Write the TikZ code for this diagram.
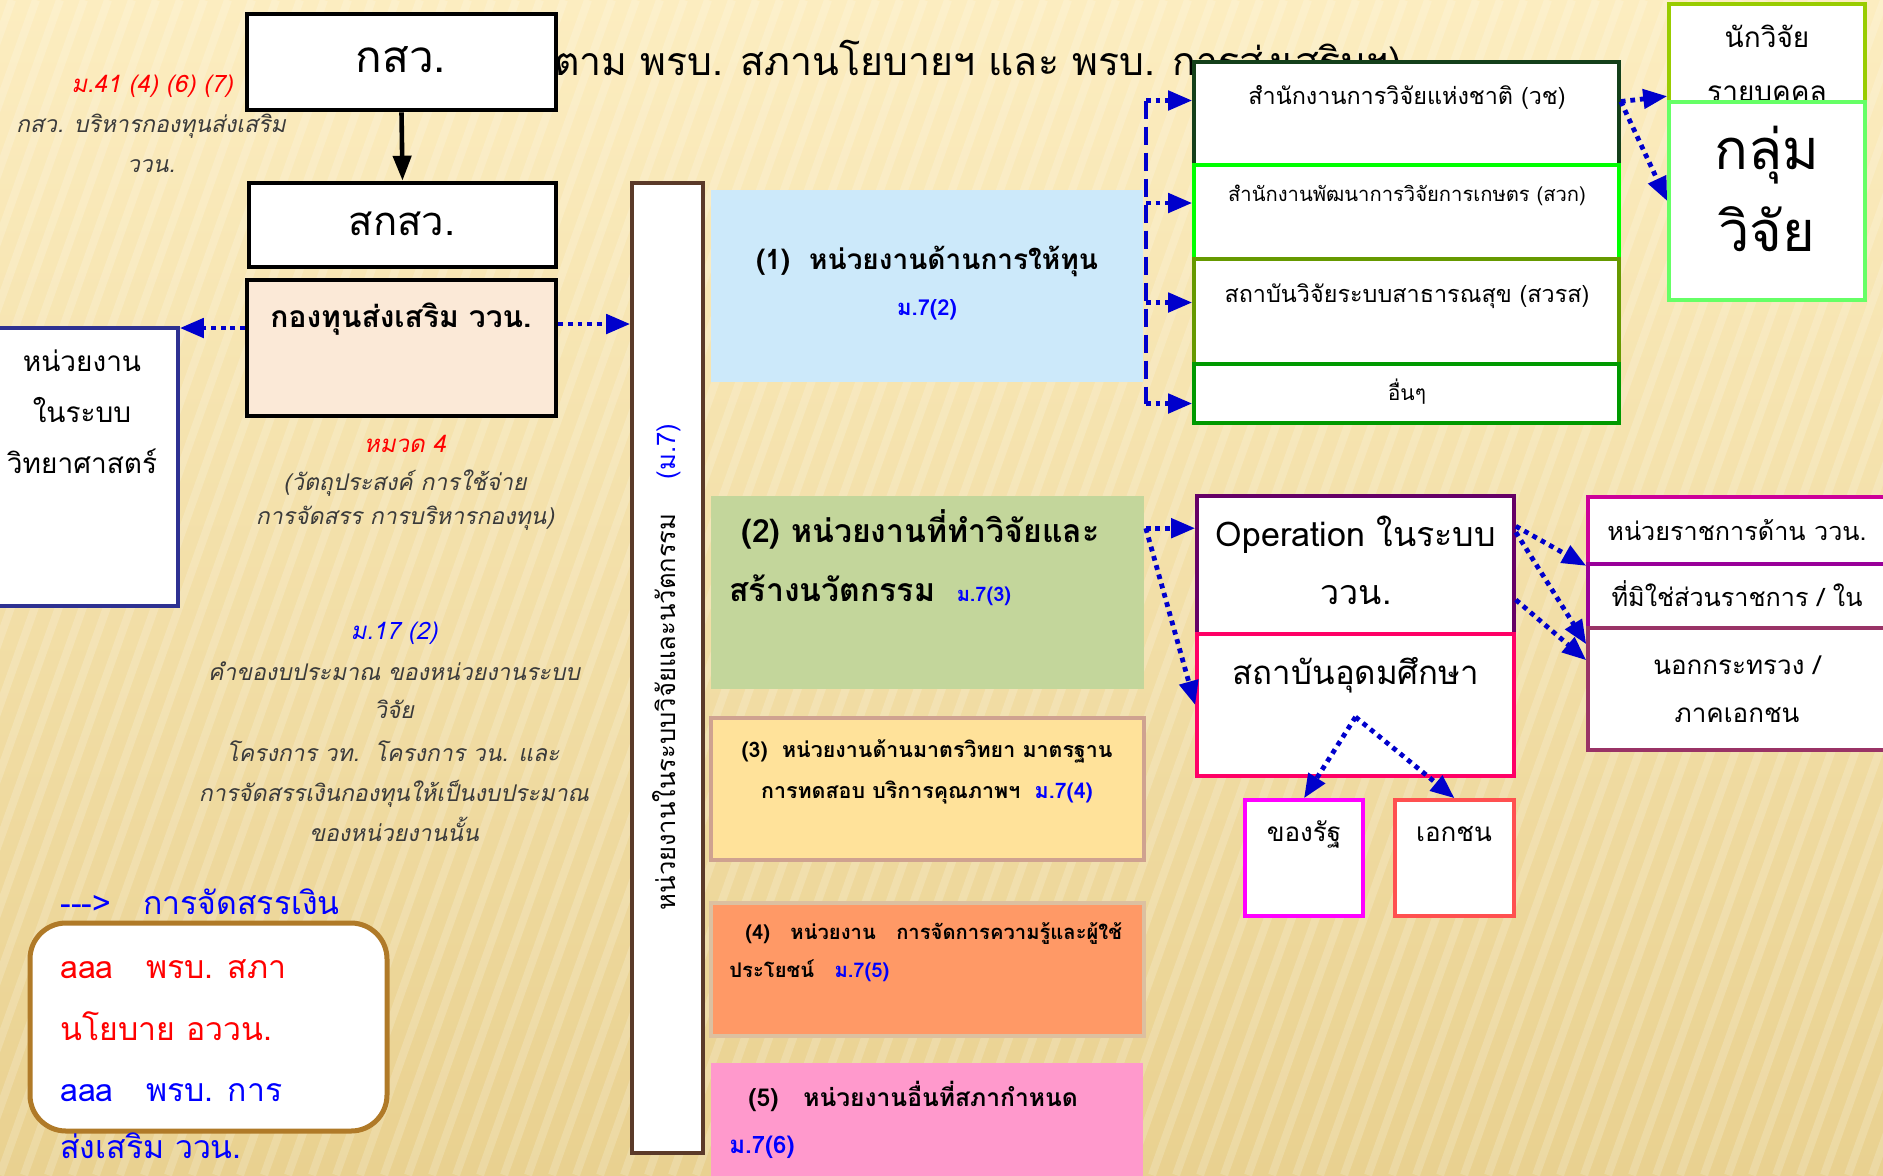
\documentclass[tikz,border=0pt]{standalone}
\usepackage{fontspec}
\setmainfont[Script=Thai]{Loma}
\usetikzlibrary{positioning,arrows.meta}

\definecolor{bgtop}{HTML}{FCEDC0}
\definecolor{bgbot}{HTML}{E9D190}
\definecolor{arrblue}{HTML}{0000CC}
\definecolor{txtblue}{HTML}{0000FF}
\definecolor{txtred}{HTML}{FF0000}
\definecolor{notegray}{HTML}{3A3A3A}
\definecolor{fundfill}{HTML}{FBE9D7}
\definecolor{scidraw}{HTML}{2E3192}
\definecolor{barbrown}{HTML}{5B3A29}
\definecolor{gonefill}{HTML}{CCE9FA}
\definecolor{gtwofill}{HTML}{C3D69B}
\definecolor{gthreefill}{HTML}{FFE29A}
\definecolor{gthreedraw}{HTML}{CFA290}
\definecolor{gfourfill}{HTML}{FF9966}
\definecolor{gfourdraw}{HTML}{DCC0A0}
\definecolor{gfivefill}{HTML}{FF99CC}
\definecolor{nrctdraw}{HTML}{14401A}
\definecolor{ardadraw}{HTML}{00FF00}
\definecolor{hsridraw}{HTML}{669900}
\definecolor{otherdraw}{HTML}{009900}
\definecolor{indivdraw}{HTML}{99CC00}
\definecolor{groupdraw}{HTML}{66FF66}
\definecolor{operdraw}{HTML}{660066}
\definecolor{heidraw}{HTML}{FF0066}
\definecolor{statedraw}{HTML}{FF00FF}
\definecolor{privdraw}{HTML}{FF5050}
\definecolor{govdraw}{HTML}{CC0099}
\definecolor{nongovdraw}{HTML}{990099}
\definecolor{outdraw}{HTML}{993366}
\definecolor{legdraw}{HTML}{B07A28}

\newcommand{\fsz}[1]{\fontsize{#1}{#1}\selectfont}

\tikzset{
	box/.style={draw, fill=white, line width=1.8pt, inner sep=0pt},
	bigbox/.style={box, draw=black, line width=2.3pt},
	grp/.style={inner sep=0pt, line width=1.8pt},
	darr/.style={draw=arrblue, line width=2.4pt, dash pattern=on 2.4pt off 2.4pt,
		-{Triangle[length=12pt,width=9.5pt]}},
	spine/.style={draw=arrblue, line width=2.4pt, dash pattern=on 9pt off 4pt},
	lbl/.style={anchor=mid, inner sep=0pt},
	lblw/.style={anchor=mid west, inner sep=0pt},
	note/.style={lbl, text=notegray, font=\itshape\fsz{11.5}},
}

\begin{document}
\begin{tikzpicture}[x=0.5pt,y=-0.5pt]
	\useasboundingbox (0,0) rectangle (1883,1175);
	% background
	\shade[top color=bgtop, bottom color=bgbot] (0,0) rectangle (1883,1175);
	\foreach \i in {-480,-456,...,1900}
		\draw[white, opacity=.18, line width=4pt] (\i,1175) -- (\i+420,0);

	\node[lbl, anchor=mid east, font=\fsz{19.6}] (title) at (1402,70) {(ตาม พรบ. สภานโยบายฯ และ พรบ. การส่งเสริมฯ)};

	% left column
	\node[bigbox, minimum width=154.5pt, minimum height=48pt] (ksw) at (401.5,62) {};
	\node[lbl, font=\fsz{22}] (kswt) at (401,67) {กสว.};
	\node[bigbox, minimum width=153.5pt, minimum height=42pt] (sksw) at (402.5,225) {};
	\node[lbl, font=\fsz{20}] (skswt) at (402,230) {สกสว.};
	\draw[line width=2.3pt, -{Triangle[length=12.5pt,width=9pt]}] (ksw.south) -- (sksw.north);
	\node[bigbox, fill=fundfill, minimum width=154.5pt, minimum height=68pt] (fund) at (401.5,348) {};
	\node[lbl, font=\bfseries\fsz{15}] (fundt) at (401,322) {กองทุนส่งเสริม ววน.};

	\node[box, draw=scidraw, minimum width=99pt, minimum height=139pt] (sci) at (79,467) {};
	\node[lbl, font=\fsz{14}] (scia) at (82,366) {หน่วยงาน};
	\node[lbl, font=\fsz{14}] (scib) at (82,417) {ในระบบ};
	\node[lbl, font=\fsz{14}] (scic) at (82,468) {วิทยาศาสตร์};

	\node[lbl, text=txtred, font=\itshape\fsz{12}] (secA) at (152,87) {ม.41 (4) (6) (7)};
	\node[note] (noteA) at (151,127) {กสว. บริหารกองทุนส่งเสริม};
	\node[note] (noteB) at (151,167) {ววน.};
	\node[lbl, text=txtred, font=\itshape\fsz{12}] (secB) at (405,447) {หมวด 4};
	\node[note] (noteC) at (405,485) {(วัตถุประสงค์ การใช้จ่าย};
	\node[note] (noteD) at (405,519) {การจัดสรร การบริหารกองทุน)};
	\node[lbl, text=txtblue, font=\itshape\fsz{12}] (secC) at (394,634) {ม.17 (2)};
	\node[note] (noteE) at (394,675) {คำของบประมาณ ของหน่วยงานระบบ};
	\node[note] (noteF) at (394,713) {วิจัย};
	\node[note] (noteG) at (393,756) {โครงการ วท.~~โครงการ วน. และ};
	\node[note] (noteH) at (394,796) {การจัดสรรเงินกองทุนให้เป็นงบประมาณ};
	\node[note] (noteI) at (394,836) {ของหน่วยงานนั้น};

	% legend
	\draw[legdraw, fill=white, line width=2.5pt, rounded corners=18pt] (30,923) rectangle (387,1131);
	\node[lblw, text=txtblue, font=\fsz{16}] (legA) at (60,909) {-{}-{}-\textgreater\ \ \ การจัดสรรเงิน};
	\node[lblw, text=txtred, font=\fsz{16}] (legB) at (60,973) {aaa\ \ \ พรบ. สภา};
	\node[lblw, text=txtred, font=\fsz{16}] (legC) at (60,1035) {นโยบาย อววน.};
	\node[lblw, text=txtblue, font=\fsz{16}] (legD) at (60,1096) {aaa\ \ \ พรบ. การ};
	\node[lblw, text=txtblue, font=\fsz{16}] (legE) at (60,1153) {ส่งเสริม ววน.};

	% units in the system
	\node[box, draw=barbrown, minimum width=35.5pt, minimum height=485pt] (bar) at (667.5,668) {};
	\node[lbl, rotate=90, font=\fsz{12.8}] (bart) at (670,667) {หน่วยงานในระบบวิจัยและนวัตกรรม\ \ \ \ \textcolor{txtblue}{(ม.7)}};

	\coordinate (fundL) at ([yshift=10pt]fund.west);
	\coordinate (fundR) at ([yshift=12pt]fund.east);
	\draw[darr] (fundL) -- (fundL -| sci.east);
	\draw[darr] (fundR) -- (fundR -| bar.west);

	\node[grp, fill=gonefill, minimum width=216pt, minimum height=96pt] (gone) at (927,286) {};
	\node[lbl, font=\bfseries\fsz{14}] (gonet) at (927,264) {(1)\ \ หน่วยงานด้านการให้ทุน};
	\node[lbl, text=txtblue, font=\bfseries\fsz{11}] (gones) at (927,310) {ม.7(2)};

	\node[grp, fill=gtwofill, minimum width=216.5pt, minimum height=96.5pt] (gtwo) at (927.5,592.5) {};
	\node[lblw, font=\bfseries\fsz{16}] (gtwot) at (741,537) {(2) หน่วยงานที่ทำวิจัยและ};
	\node[lblw, font=\bfseries\fsz{16}] (gtwou) at (729,596) {สร้างนวัตกรรม\ \ \textcolor{txtblue}{\fsz{10}ม.7(3)}};

	\node[grp, draw=gthreedraw, fill=gthreefill, minimum width=216.5pt, minimum height=71pt] (gthree) at (927.5,789) {};
	\node[lbl, font=\bfseries\fsz{10.7}] (gthreet) at (927,752) {(3)\ \ หน่วยงานด้านมาตรวิทยา มาตรฐาน};
	\node[lbl, font=\bfseries\fsz{10.7}] (gthreeu) at (927,793) {การทดสอบ บริการคุณภาพฯ\ \ \textcolor{txtblue}{ม.7(4)}};

	\node[grp, draw=gfourdraw, fill=gfourfill, minimum width=216.5pt, minimum height=66.5pt] (gfour) at (927.5,969.5) {};
	\node[lblw, font=\bfseries\fsz{10.1}] (gfourt) at (745,934) {(4)\ \ \ หน่วยงาน\ \ \ การจัดการความรู้และผู้ใช้};
	\node[lblw, font=\bfseries\fsz{10.1}] (gfouru) at (729,972) {ประโยชน์\ \ \ \textcolor{txtblue}{ม.7(5)}};

	\node[grp, fill=gfivefill, minimum width=216pt, minimum height=66pt] (gfive) at (927,1129) {};
	\node[lblw, font=\bfseries\fsz{12.3}] (gfivet) at (748,1101) {(5)\ \ \ หน่วยงานอื่นที่สภากำหนด};
	\node[lblw, text=txtblue, font=\bfseries\fsz{12}] (gfiveu) at (729,1148) {ม.7(6)};

	% funding agencies
	\node[box, draw=nrctdraw, minimum width=212.5pt, minimum height=51.5pt] (nrct) at (1406.5,113.5) {};
	\node[lbl, font=\fsz{11.7}] (nrctt) at (1407,99) {สำนักงานการวิจัยแห่งชาติ (วช)};
	\node[box, draw=ardadraw, minimum width=212.5pt, minimum height=47pt] (arda) at (1406.5,212) {};
	\node[lbl, font=\fsz{10.1}] (ardat) at (1407,196) {สำนักงานพัฒนาการวิจัยการเกษตร (สวก)};
	\node[box, draw=hsridraw, minimum width=212.5pt, minimum height=52.5pt] (hsri) at (1406.5,311.5) {};
	\node[lbl, font=\fsz{11.7}] (hsrit) at (1407,297) {สถาบันวิจัยระบบสาธารณสุข (สวรส)};
	\node[box, draw=otherdraw, minimum width=212.5pt, minimum height=29.5pt] (other) at (1406.5,393.5) {};
	\node[lbl, font=\fsz{10.5}] (othert) at (1407,395) {อื่นๆ};

	\coordinate (spine) at (1146,0);
	\coordinate (nrctIn) at ([yshift=6.5pt]nrct.west);
	\coordinate (ardaIn) at ([yshift=4.5pt]arda.west);
	\coordinate (hsriIn) at ([yshift=4.5pt]hsri.west);
	\coordinate (otherIn) at ([yshift=-5pt]other.west);
	\draw[spine] (nrctIn -| spine) -- (otherIn -| spine);
	\foreach \b in {nrctIn,ardaIn,hsriIn,otherIn}
		\draw[darr] (\b -| spine) -- (\b);

	\node[box, draw=indivdraw, minimum width=98pt, minimum height=53pt] (indiv) at (1767,57) {};
	\node[lbl, font=\fsz{14}] (indivt) at (1767,42) {นักวิจัย};
	\node[lbl, font=\fsz{14}] (indivu) at (1767,96) {รายบุคคล};
	\node[box, draw=groupdraw, minimum width=98pt, minimum height=99pt] (group) at (1767,201) {};
	\node[lbl, font=\fsz{28}] (groupt) at (1767,164) {กลุ่ม};
	\node[lbl, font=\fsz{28}] (groupu) at (1767,246) {วิจัย};

	\coordinate (nrctR) at ([yshift=6pt]nrct.east);
	\draw[darr] (nrctR) -- ([yshift=2pt]group.north west);
	\draw[darr] (nrctR) -- (group.west);

	% research units
	\node[box, draw=operdraw, minimum width=158.5pt, minimum height=69pt] (oper) at (1355.5,565) {};
	\node[lbl, font=\fsz{17}] (opert) at (1356,541) {Operation ในระบบ};
	\node[lbl, font=\fsz{17}] (operu) at (1356,599) {ววน.};
	\node[box, draw=heidraw, minimum width=158.5pt, minimum height=71pt] (hei) at (1355.5,705) {};
	\node[lbl, font=\fsz{16.5}] (heit) at (1356,679) {สถาบันอุดมศึกษา};
	\node[box, draw=statedraw, minimum width=59pt, minimum height=58pt] (state) at (1304,858) {};
	\node[lbl, font=\fsz{13}] (statet) at (1304,836) {ของรัฐ};
	\node[box, draw=privdraw, minimum width=59.5pt, minimum height=58pt] (priv) at (1454.5,858) {};
	\node[lbl, font=\fsz{13}] (privt) at (1454,836) {เอกชน};

	\node[box, draw=govdraw, minimum width=156pt, minimum height=33.5pt] (gov) at (1744,530.5) {};
	\node[lbl, font=\fsz{12.6}] (govt) at (1737,535) {หน่วยราชการด้าน ววน.};
	\node[box, draw=nongovdraw, minimum width=156pt, minimum height=32pt] (nongov) at (1744,596) {};
	\node[lbl, font=\fsz{12.6}] (nongovt) at (1737,601) {ที่มิใช่ส่วนราชการ / ใน};
	\node[box, draw=outdraw, minimum width=156pt, minimum height=61pt] (outside) at (1744,689) {};
	\node[lbl, font=\fsz{13}] (outsidet) at (1737,669) {นอกกระทรวง /};
	\node[lbl, font=\fsz{13}] (outsideu) at (1737,717) {ภาคเอกชน};

	\coordinate (gtwoR) at ([yshift=-17pt]gtwo.north east);
	\draw[darr] (gtwoR) -- (gtwoR -| oper.west);
	\draw[darr] (gtwoR) -- (hei.west);
	\draw[darr] ([yshift=-16pt]oper.north east) -- (gov.south west);
	\draw[darr] ([yshift=-19pt]oper.north east) -- ([yshift=-9pt]outside.north west);
	\draw[darr] ([yshift=18pt]oper.south east) -- ([yshift=-17pt]outside.north west);
	\coordinate (heiC) at ([yshift=-6pt]hei.center);
	\draw[darr] (heiC) -- (state.north);
	\draw[darr] (heiC) -- (priv.north);
\end{tikzpicture}
\end{document}
